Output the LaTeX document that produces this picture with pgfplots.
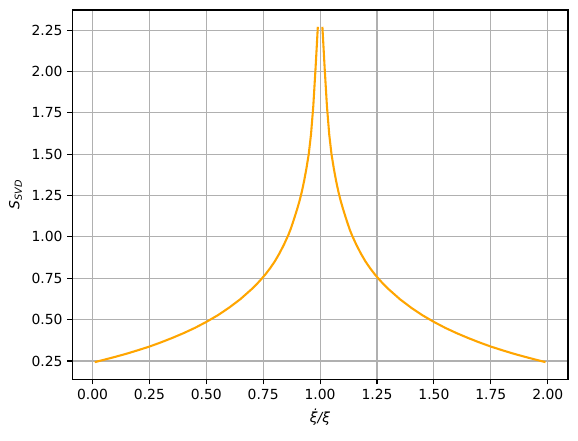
\documentclass[border=0pt]{standalone}
\usepackage{fontspec}
\setmainfont{DejaVu Sans}
\usepackage{pgfplots}
\pgfplotsset{compat=1.18}
\definecolor{mplorange}{HTML}{FFA500}
\definecolor{mplgrid}{HTML}{B0B0B0}
\begin{document}
\begin{tikzpicture}
\begin{axis}[
  scale only axis, width=357pt, height=266pt,
  xmin=-0.089, xmax=2.089, ymin=0.1385, ymax=2.3715,
  xtick={0,0.25,...,2.0}, ytick={0.25,0.5,...,2.25},
  /pgf/number format/assume math mode=true,
  /pgf/number format/.cd, fixed, fixed zerofill, precision=2, /pgfplots/.cd,
  tick label style={font=\fontsize{10}{12}\selectfont},
  tick align=outside, tick pos=left, major tick length=3.5pt,
  every tick/.style={black, line width=0.8pt},
  axis line style={line width=0.8pt},
  grid=major, grid style={mplgrid, line width=0.8pt},
  xlabel={\textit{\.{ξ}/ξ}}, ylabel={\textit{S\textsubscript{SVD}}},
  label style={font=\fontsize{10}{12}\selectfont},
]
\addplot[mplorange, line width=1.5pt, line join=round] coordinates {
(0.01,0.243)(0.05,0.257)(0.10,0.275)(0.15,0.294)(0.20,0.315)(0.25,0.337)
(0.30,0.362)(0.35,0.389)(0.40,0.418)(0.45,0.450)(0.50,0.486)(0.55,0.526)
(0.60,0.572)(0.65,0.624)(0.70,0.685)(0.72,0.712)(0.74,0.742)(0.76,0.774)
(0.78,0.810)(0.80,0.850)(0.82,0.897)(0.84,0.950)(0.86,1.010)(0.87,1.045)
(0.88,1.085)(0.89,1.128)(0.90,1.172)(0.91,1.220)(0.92,1.275)(0.93,1.340)
(0.94,1.415)(0.95,1.500)(0.96,1.620)(0.97,1.790)(0.98,2.020)(0.99,2.270)
};
\addplot[mplorange, line width=1.5pt, line join=round] coordinates {
(1.01,2.270)(1.02,2.020)(1.03,1.790)(1.04,1.620)(1.05,1.500)(1.06,1.415)
(1.07,1.340)(1.08,1.275)(1.09,1.220)(1.10,1.172)(1.11,1.128)(1.12,1.085)
(1.13,1.045)(1.14,1.010)(1.16,0.950)(1.18,0.897)(1.20,0.850)(1.22,0.810)
(1.24,0.774)(1.26,0.742)(1.28,0.712)(1.30,0.685)(1.35,0.624)(1.40,0.572)
(1.45,0.526)(1.50,0.486)(1.55,0.450)(1.60,0.418)(1.65,0.389)(1.70,0.362)
(1.75,0.337)(1.80,0.315)(1.85,0.294)(1.90,0.275)(1.95,0.257)(1.99,0.243)
};
\end{axis}
\path (current axis.south west) ++(-52pt,-44pt);
\path (current axis.north east) ++(7.2pt,7.2pt);
\end{tikzpicture}
\end{document}
